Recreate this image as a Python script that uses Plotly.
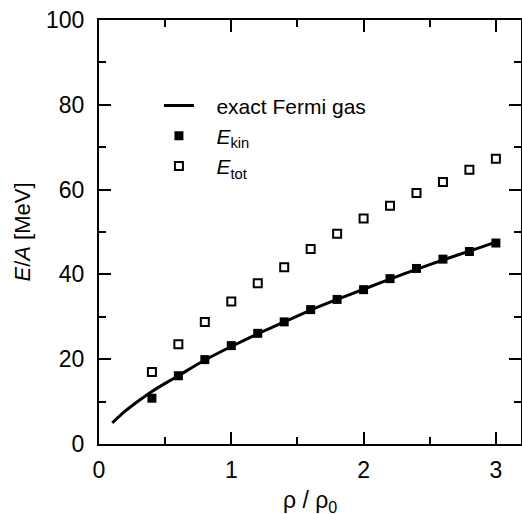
import plotly.graph_objects as go

# Data
rho_pts = [0.4, 0.6, 0.8, 1.0, 1.2, 1.4, 1.6, 1.8, 2.0, 2.2, 2.4, 2.6, 2.8, 3.0]
e_kin = [10.8, 16.1, 19.9, 23.2, 26.1, 28.8, 31.7, 34.1, 36.4, 39.0, 41.4, 43.6, 45.4, 47.4]
e_tot = [17.0, 23.5, 28.8, 33.6, 37.9, 41.7, 46.0, 49.6, 53.2, 56.2, 59.2, 61.8, 64.7, 67.3]

rho_line = [0.1, 0.2, 0.3, 0.4, 0.5, 0.6, 0.8, 1.0, 1.2, 1.4, 1.6, 1.8, 2.0, 2.2, 2.4, 2.6, 2.8, 3.0]
e_fermi = [5.0, 7.8, 10.2, 12.4, 14.3, 16.1, 19.8, 23.0, 26.0, 28.8, 31.6, 34.1, 36.5, 38.9, 41.2, 43.4, 45.5, 47.6]

x_ticks = [0, 1, 2, 3]
y_ticks = [0, 20, 40, 60, 80, 100]

FONT = "Liberation Sans, Arial, sans-serif"
pad = "\u00a0" * 3

fig = go.Figure()
fig.add_trace(go.Scatter(x=rho_line, y=e_fermi, mode="lines",
                         line=dict(color="black", width=3, shape="spline", smoothing=0.6),
                         name=pad + "exact Fermi gas", legendgroup="a"))
fig.add_trace(go.Scatter(x=rho_pts, y=e_kin, mode="markers",
                         marker=dict(symbol="square", size=9, color="black"),
                         name=pad + "<i>E</i><sub>kin</sub>", legendgroup="b"))
fig.add_trace(go.Scatter(x=rho_pts, y=e_tot, mode="markers",
                         marker=dict(symbol="square-open", size=8, color="black",
                                     line=dict(width=2, color="black")),
                         name=pad + "<i>E</i><sub>tot</sub>", legendgroup="c"))

axis_common = dict(
    showgrid=False, zeroline=False, showline=True, linecolor="black", linewidth=2,
    mirror="ticks", ticks="inside", tickcolor="black", tickwidth=1.5,
    tickfont=dict(family=FONT, size=23, color="black"), automargin=False,
)

fig.update_layout(
    width=522, height=514,
    margin=dict(l=99, r=1, t=20, b=70),
    paper_bgcolor="white", plot_bgcolor="white",
    font=dict(family=FONT, color="black"),
    showlegend=True,
    legend=dict(x=0.142, y=0.727, xanchor="left", yanchor="middle",
                bgcolor="rgba(0,0,0,0)", borderwidth=0,
                font=dict(family=FONT, size=21, color="black"),
                traceorder="grouped", tracegroupgap=0),
    xaxis=dict(range=[0, 3.19], tickvals=x_ticks, ticklen=12,
               minor=dict(dtick=0.5, ticklen=7, ticks="inside", tickcolor="black", tickwidth=1.5),
               ticklabelstandoff=4,
               **axis_common),
    yaxis=dict(range=[0, 100], tickvals=y_ticks, ticklen=12,
               minor=dict(dtick=10, ticklen=7, ticks="inside", tickcolor="black", tickwidth=1.5),
               ticklabelstandoff=8,
               title=dict(text="<i>E</i>/<i>A</i> [MeV]", font=dict(family=FONT, size=22), standoff=9),
               **axis_common),
    annotations=[dict(text="ρ / ρ<sub>0</sub>", xref="paper", yref="paper",
                      x=0.5, y=-0.135, xanchor="center", yanchor="middle",
                      showarrow=False, font=dict(family=FONT, size=23, color="black"))],
)

fig.write_html("out.html")
